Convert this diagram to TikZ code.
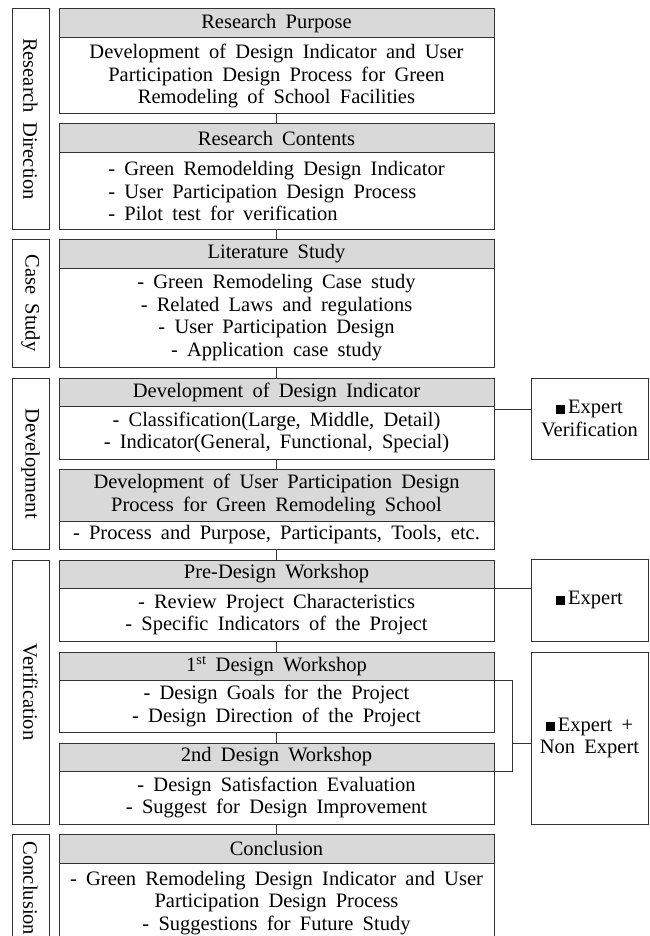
\documentclass[tikz,border=0pt]{standalone}
\usepackage{fontspec}
\setmainfont{Liberation Serif}[WordSpace=1.8]
\usetikzlibrary{calc}
\definecolor{hdrgray}{HTML}{D9D9D9}
\definecolor{linec}{HTML}{333333}
\newcommand{\sqmark}{\rule{9pt}{9pt}\hspace{3pt}}
\begin{document}
\begin{tikzpicture}[x=1pt,y=-1pt,
  every node/.style={inner sep=0pt, outer sep=0pt, font=\fontsize{20.5}{22.5}\selectfont},
  box/.style={draw=linec, line width=1pt, minimum width=435pt, align=center},
  hdr/.style={box, fill=hdrgray},
  bod/.style={box, fill=white},
  side/.style={draw=linec, line width=1pt, minimum height=37pt, rotate=-90, fill=white},
  rbox/.style={draw=linec, line width=1pt, minimum width=117pt, align=center, fill=white},
  conn/.style={draw=linec, line width=1pt}]
\useasboundingbox (0,0) rectangle (649,936);
\clip (0,0) rectangle (649,936);
% main column
\node[hdr, minimum height=29pt] (h1) at (276.5,23.5) {Research Purpose};
\node[bod, minimum height=76pt] (b1) at (276.5,76) {Development of Design Indicator and User\\Participation Design Process for Green\\Remodeling of School Facilities};
\node[hdr, minimum height=29pt] (h2) at (276.5,138.5) {Research Contents};
\node[bod, minimum height=76pt, align=left] (b2) at (276.5,191) {- Green Remodelding Design Indicator\\- User Participation Design Process\\- Pilot test for verification};
\node[hdr, minimum height=29pt] (h3) at (276.5,253.5) {Literature Study};
\node[bod, minimum height=99pt] (b3) at (276.5,317.5) {- Green Remodeling Case study\\- Related Laws and regulations\\- User Participation Design\\- Application case study};
\node[hdr, minimum height=28pt] (h4) at (276.5,392) {Development of Design Indicator};
\node[bod, minimum height=53pt] (b4) at (276.5,432.5) {- Classification(Large, Middle, Detail)\\- Indicator(General, Functional, Special)};
\node[hdr, minimum height=52pt] (h5) at (276.5,495) {Development of User Participation Design\\Process for Green Remodeling School};
\node[bod, minimum height=28pt] (b5) at (276.5,535) {- Process and Purpose, Participants, Tools, etc.};
\node[hdr, minimum height=28pt] (h6) at (276.5,574) {Pre-Design Workshop};
\node[bod, minimum height=53pt] (b6) at (276.5,614.5) {- Review Project Characteristics\\- Specific Indicators of the Project};
\node[hdr, minimum height=28pt] (h7) at (276.5,666) {1\textsuperscript{st} Design Workshop};
\node[bod, minimum height=52pt] (b7) at (276.5,706) {- Design Goals for the Project\\- Design Direction of the Project};
\node[hdr, minimum height=28pt] (h8) at (276.5,757) {2nd Design Workshop};
\node[bod, minimum height=53pt] (b8) at (276.5,797.5) {- Design Satisfaction Evaluation\\- Suggest for Design Improvement};
\node[hdr, minimum height=29pt] (h9) at (276.5,848.5) {Conclusion};
\node[bod, minimum height=80pt] (b9) at (276.5,903) {- Green Remodeling Design Indicator and User\\Participation Design Process\\- Suggestions for Future Study};
% side labels
\node[side, minimum width=220pt] (s1) at (30.5,119) {Research Direction};
\node[side, minimum width=128pt] (s2) at (30.5,303) {Case Study};
\node[side, minimum width=171pt] (s3) at (30.5,463.5) {Development};
\node[side, minimum width=264pt] (s4) at (30.5,692) {Verification};
\node[side, minimum width=109pt] (s5) at (30.5,888.5) {Conclusion};
% right boxes
\node[rbox, minimum height=81pt] (r1) at (589.5,418.5) {\sqmark Expert\\Verification};
\node[rbox, minimum height=82pt] (r2) at (589.5,600) {\sqmark Expert};
\node[rbox, minimum height=172pt] (r3) at (589.5,738) {\sqmark Expert +\\Non Expert};
% connectors
\foreach \a/\b in {b1/h2, b2/h3, b3/h4, b4/h5, b5/h6, b6/h7, b7/h8, b8/h9}
  \draw[conn] (\a.south) -- (\b.north);
\coordinate (c1) at (494,409);
\draw[conn] (c1) -- (c1 -| r1.west);
\draw[conn] (h6.south east) -- (h6.south east -| r2.west);
\coordinate (k1) at (512,680);
\coordinate (k2) at (512,771);
\coordinate (k3) at (512,743);
\draw[conn] (h7.south east) -- (k1) -- (k2) -- (h8.south east);
\draw[conn] (k3) -- (k3 -| r3.west);
\end{tikzpicture}
\end{document}
